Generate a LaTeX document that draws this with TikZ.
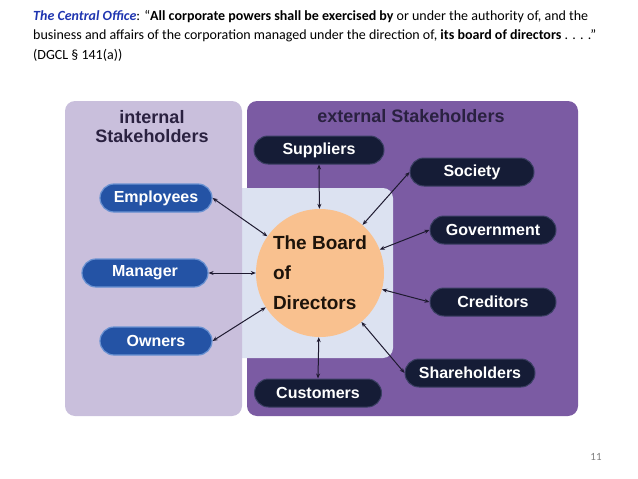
\documentclass[tikz,border=0pt]{standalone}
\usepackage{fontspec}
\setmainfont{Carlito}
\newfontfamily\pillfont{Liberation Sans}
\usetikzlibrary{arrows.meta}
\definecolor{leftpanel}{HTML}{C9BFDC}
\definecolor{rightpanel}{HTML}{7B5BA3}
\definecolor{innerlight}{HTML}{DCE2F1}
\definecolor{boardfill}{HTML}{F9C18F}
\definecolor{bluepill}{HTML}{2453A5}
\definecolor{bluepillborder}{HTML}{6A92D2}
\definecolor{navypill}{HTML}{151C36}
\definecolor{navyborder}{HTML}{3A3F62}
\definecolor{titletext}{HTML}{2A2140}
\definecolor{headblue}{HTML}{1F35B0}
\definecolor{arrowcol}{HTML}{1E1A30}
\tikzset{
  bluebox/.style={rectangle, rounded corners=14pt, fill=bluepill, draw=bluepillborder, line width=1.2pt,
     minimum height=28pt, text=white, font=\pillfont\bfseries\fontsize{16}{18}\selectfont, inner sep=0pt},
  navybox/.style={rectangle, rounded corners=14pt, fill=navypill, draw=navyborder, line width=1pt,
     minimum height=28pt, text=white, font=\pillfont\bfseries\fontsize{16}{18}\selectfont, inner sep=0pt},
  link/.style={{Stealth[length=5pt,width=4pt]}-{Stealth[length=5pt,width=4pt]}, line width=1pt, draw=arrowcol},
  paneltitle/.style={text=titletext, font=\pillfont\bfseries\fontsize{18}{20}\selectfont, align=center},
}
\begin{document}
\begin{tikzpicture}[x=1pt,y=-1pt]
\useasboundingbox (0,0) rectangle (638,479);
% panels
\fill[rightpanel, rounded corners=10pt] (247,101) rectangle (578,416);
\fill[innerlight, rounded corners=10pt] (230,188) rectangle (393,358);
\fill[leftpanel, rounded corners=10pt] (65,101) rectangle (242,416);
% header
\node[anchor=north west, inner sep=0pt, align=left, font=\fontsize{14}{19.6}\selectfont] (head) at (33,10)
  {\textcolor{headblue}{\textbf{\textit{The Central Office}}}: “\textbf{All corporate powers shall be exercised by} or under the authority of, and the\\
   business and affairs of the corporation managed under the direction of, \textbf{its board of directors} . . . .”\\
   (DGCL § 141(a))};
% titles
\node[paneltitle] (intitle) at (152,127) {internal\\[-1pt]Stakeholders};
\node[paneltitle] (extitle) at (411,116) {external Stakeholders};
% board
\node[circle, fill=boardfill, minimum size=128pt, inner sep=0pt, align=left, text=black!85!brown,
      font=\pillfont\bfseries\fontsize{19}{30}\selectfont] (board) at (320,273)
  {The Board\\of\\Directors};
% left pills
\node[bluebox, minimum width=112pt] (emp) at (156,198) {Employees};
\node[bluebox, minimum width=126pt] (man) at (145,273) {Manager};
\node[bluebox, minimum width=112pt] (own) at (156,341) {Owners};
% right pills
\node[navybox, minimum width=130pt] (sup) at (319,150) {Suppliers};
\node[navybox, minimum width=124pt] (soc) at (472,172) {Society};
\node[navybox, minimum width=126pt] (gov) at (493,230) {Government};
\node[navybox, minimum width=126pt] (cre) at (493,302) {Creditors};
\node[navybox, minimum width=130pt] (sha) at (470,373) {Shareholders};
\node[navybox, minimum width=127pt] (cus) at (318,393) {Customers};
% links
\draw[link] (emp.east) -- (board);
\draw[link] (man.east) -- (board);
\draw[link] (own.east) -- (board);
\draw[link] (sup.south) -- (board);
\draw[link] (cus.north) -- (board);
\draw[link] (soc.west) -- (board);
\draw[link] (gov.west) -- (board);
\draw[link] (cre.west) -- (board);
\draw[link] (sha.west) -- (board);
% page number
\node[text=gray, font=\fontsize{11}{13}\selectfont] (page) at (596,457) {11};
\end{tikzpicture}
\end{document}
